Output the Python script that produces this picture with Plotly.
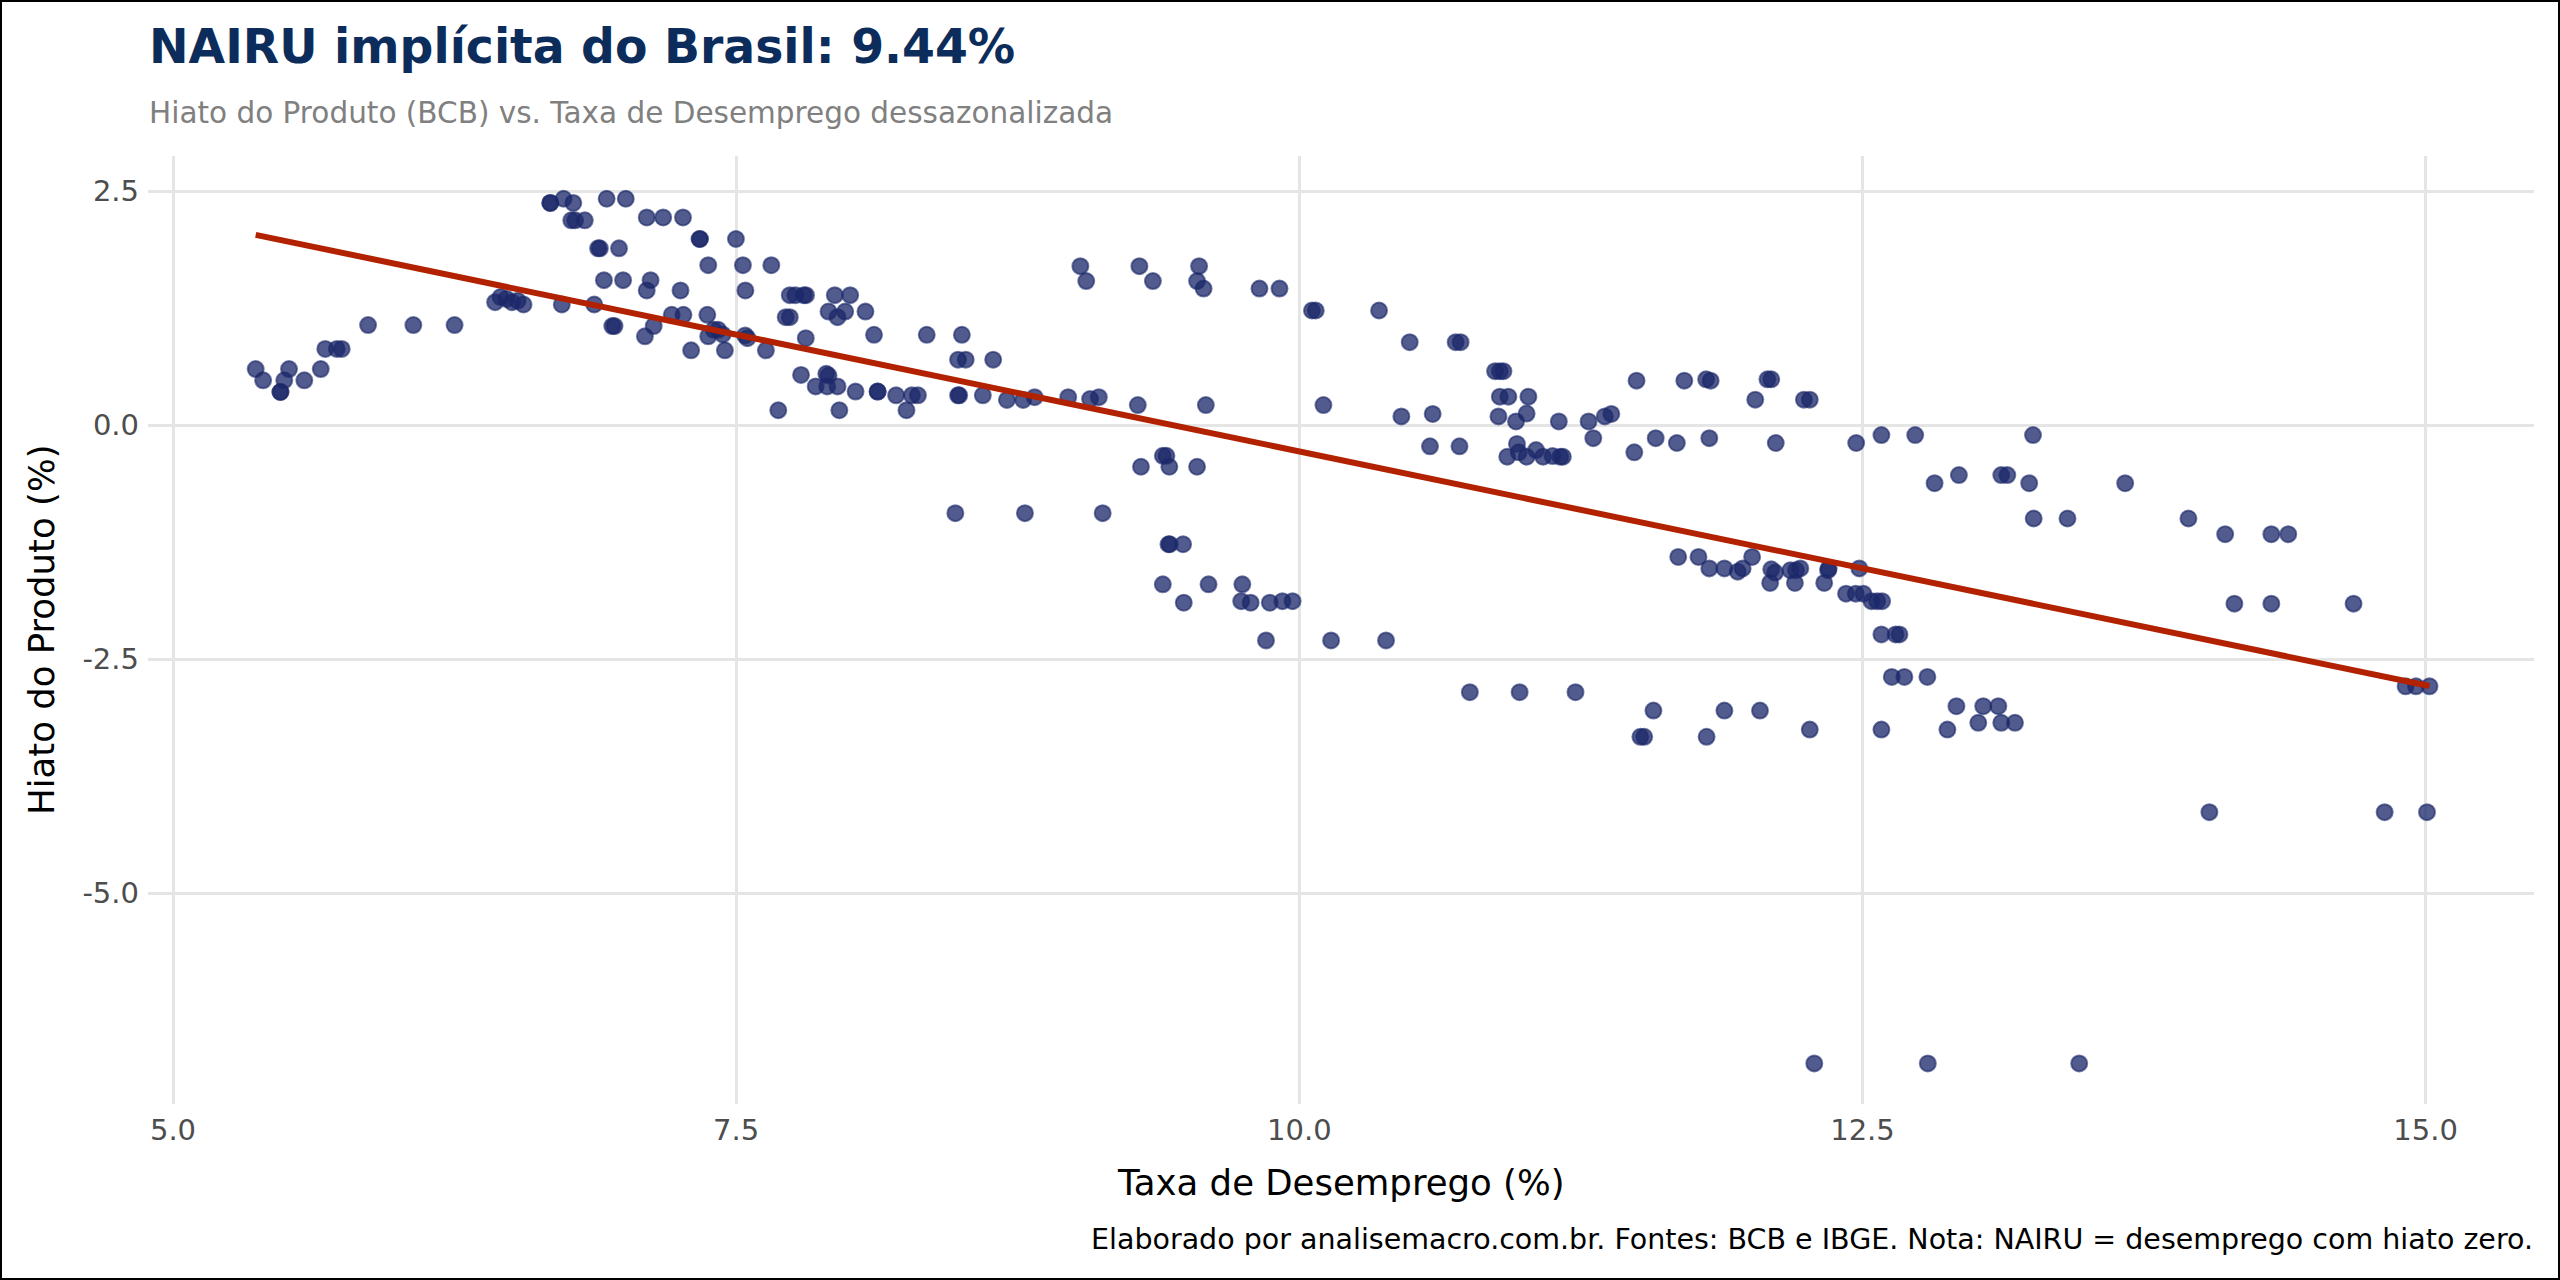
import numpy as np
import plotly.graph_objects as go

# Taxa de desemprego dessazonalizada (%)
desemprego = [
    5.367, 5.40, 5.477, 5.477, 5.494, 5.515, 5.583, 5.656, 5.676, 5.727, 5.749, 5.866, 6.067, 6.25,
    6.43, 6.454, 6.48, 6.505, 6.53, 6.556,
    6.675, 6.675, 6.734, 6.777, 6.768, 6.785, 6.828,
    6.726, 6.87, 6.887, 6.895, 6.98, 6.913, 6.998, 6.925, 7.01, 6.95, 6.96,
    7.103, 7.176, 7.264, 7.12, 7.103, 7.253, 7.095, 7.134, 7.214, 7.266,
    7.337, 7.34, 7.499, 7.376, 7.53, 7.541, 7.372,
    7.376, 7.40, 7.42, 7.44, 7.30, 7.45, 7.54, 7.55,
    7.656, 7.632, 7.738, 7.763, 7.80, 7.81, 7.72, 7.738, 7.809,
    7.788, 7.853, 7.90, 7.91, 7.904, 7.95, 7.687, 7.958,
    7.938, 8.006, 7.91, 7.95, 7.984, 8.074, 8.112,
    8.03, 8.128, 8.128, 8.21, 8.28, 8.307, 8.256,
    8.346, 8.502, 8.485, 8.519, 8.641, 8.485, 8.49, 8.595,
    8.702, 8.774, 8.825, 8.974, 9.071, 9.11, 9.283, 9.585, 10.107,
    9.028, 9.054, 9.29, 9.35, 9.555, 9.546, 9.575, 9.823, 9.912, 10.056, 10.073,
    9.297, 9.394, 9.41, 9.423, 9.546, 8.473, 8.782, 9.127,
    9.419, 9.425, 9.484, 9.394, 9.597, 9.747,
    9.487, 9.742, 9.784, 9.869, 9.925, 9.97, 9.852, 10.141,
    10.354, 10.49, 10.694, 10.716, 10.869, 10.89, 10.906, 10.89, 10.928, 11.017,
    10.453, 10.592, 10.884, 11.009, 10.962, 11.152, 11.284, 11.356, 11.385,
    11.497, 11.709, 11.806, 11.826, 12.078, 12.095, 12.024, 12.24, 12.266,
    10.58, 10.711, 11.305, 11.487, 11.582, 11.676, 11.82, 12.115, 12.472, 12.584, 12.734, 13.257,
    10.923, 10.966, 10.974, 11.009, 11.051, 11.082, 11.124, 11.158, 11.17,
    11.682, 11.772, 11.82, 11.887, 11.946, 11.968, 12.01, 12.095, 12.112, 12.09, 12.18, 12.205,
    12.224, 12.2, 12.33, 12.347, 12.35, 12.486,
    12.427, 12.47, 12.504, 12.54, 12.565, 12.587,
    12.584, 12.647, 12.664, 12.63, 12.686, 12.788, 12.584,
    10.385, 10.757, 10.978, 11.226, 11.572, 11.514, 11.531, 11.808, 11.887, 12.045, 12.266,
    12.286, 12.917, 13.036, 13.103, 12.877, 13.014, 13.116, 13.177,
    14.151, 14.315, 14.68, 14.911, 14.957, 15.017, 14.04, 14.818, 15.006,
    12.79, 13.462,
    12.82, 12.928, 13.116, 13.143, 13.24, 13.666, 13.26, 13.41, 13.947, 14.11, 14.315, 14.39,
]

# Hiato do produto (BCB, %)
hiato = [
    0.60, 0.48, 0.355, 0.355, 0.48, 0.60, 0.48, 0.60, 0.815, 0.815, 0.815, 1.07, 1.07, 1.07,
    1.315, 1.37, 1.35, 1.315, 1.33, 1.29,
    2.375, 2.375, 2.42, 2.375, 2.19, 2.19, 2.19,
    1.29, 1.29, 1.89, 1.89, 1.89, 1.55, 1.55, 2.42, 2.42, 1.06, 1.06,
    2.22, 2.22, 2.22, 1.55, 1.44, 1.44, 0.95, 1.06, 1.18, 1.18,
    1.99, 1.99, 1.99, 1.71, 1.71, 1.44, 1.18,
    0.95, 1.02, 1.02, 0.97, 0.80, 0.80, 0.96, 0.93,
    1.71, 0.80, 1.39, 1.39, 1.39, 1.39, 1.155, 1.155, 0.93,
    0.537, 0.415, 0.55, 0.53, 0.415, 0.415, 0.16, 0.16,
    1.39, 1.39, 1.215, 1.155, 1.215, 1.215, 0.966,
    0.36, 0.36, 0.36, 0.32, 0.32, 0.32, 0.16,
    0.966, 0.966, 0.70, 0.70, 0.70, 0.32, 0.32, 0.32,
    0.27, 0.27, 0.30, 0.30, 0.28, 0.30, 0.215, 0.215, 0.215,
    1.70, 1.54, 1.70, 1.54, 1.70, 1.54, 1.46, 1.46, 1.46, 1.226, 1.226,
    -0.444, -0.327, -0.327, -0.444, -0.444, -0.94, -0.94, -0.94,
    -1.272, -1.272, -1.272, -1.70, -1.70, -1.70,
    -1.897, -1.88, -1.897, -1.897, -1.88, -1.88, -2.30, -2.30,
    1.226, 0.887, 0.887, 0.887, 0.577, 0.577, 0.577, 0.305, 0.305, 0.305,
    0.094, 0.12, 0.094, 0.125, 0.04, 0.04, 0.04, 0.094, 0.12,
    0.476, 0.476, 0.49, 0.476, 0.49, 0.49, 0.273, 0.273, 0.273,
    -0.226, -0.226, -0.138, -0.29, -0.138, -0.19, -0.138, -0.19, -0.19, -0.105, -0.105, -0.105,
    -0.337, -0.2, -0.29, -0.337, -0.266, -0.337, -0.33, -0.337, -0.337,
    -1.408, -1.408, -1.53, -1.53, -1.565, -1.53, -1.408, -1.54, -1.575, -1.686, -1.55, -1.55,
    -1.53, -1.686, -1.686, -1.55, -1.53, -1.53,
    -1.80, -1.80, -1.80, -1.88, -1.88, -1.88,
    -2.236, -2.236, -2.236, -2.69, -2.69, -2.69, -3.253,
    -2.30, -2.853, -2.853, -2.853, -3.05, -3.33, -3.33, -3.33, -3.05, -3.05, -3.253,
    -6.82, -3.003, -3.003, -3.003, -3.253, -3.18, -3.18, -3.18,
    -1.907, -1.907, -1.907, -2.79, -2.79, -2.79, -4.135, -4.135, -4.135,
    -6.82, -6.82,
    -0.62, -0.533, -0.533, -0.533, -0.62, -0.62, -0.997, -0.997, -0.997, -1.165, -1.165, -1.165,
]

x_ticks = [5.0, 7.5, 10.0, 12.5, 15.0]
x_tick_labels = ["5.0", "7.5", "10.0", "12.5", "15.0"]
y_ticks = [-5.0, -2.5, 0.0, 2.5]
y_tick_labels = ["-5.0", "-2.5", "0.0", "2.5"]

titulo = "NAIRU implícita do Brasil: 9.44%"
subtitulo = "Hiato do Produto (BCB) vs. Taxa de Desemprego dessazonalizada"
legenda = "Elaborado por analisemacro.com.br. Fontes: BCB e IBGE. Nota: NAIRU = desemprego com hiato zero."

x = np.array(desemprego)
y = np.array(hiato)
coef = np.polyfit(x, y, 1)
x_fit = np.array([x.min(), x.max()])
y_fit = np.polyval(coef, x_fit)

W, H = 2560, 1280
ML, MR, MT, MB = 148, 26, 156, 176
PW, PH = W - ML - MR, H - MT - MB


def px(xpix):
    return (xpix - ML) / PW


def py(ypix):
    return (H - MB - ypix) / PH


FONT = "DejaVu Sans"

fig = go.Figure()
fig.add_trace(go.Scatter(
    x=desemprego, y=hiato, mode="markers",
    marker=dict(size=16, color="rgba(27,40,105,0.76)",
                line=dict(color="rgba(27,40,105,0.6)", width=2)),
    showlegend=False, hoverinfo="x+y",
))
fig.add_trace(go.Scatter(
    x=x_fit, y=y_fit, mode="lines",
    line=dict(color="#B22200", width=6),
    showlegend=False, hoverinfo="skip",
))

fig.add_shape(type="line", xref="paper", yref="y", x0=0, x1=1, y0=0, y1=0,
              line=dict(color="#808080", width=2.5, dash="8px,5px"), layer="below")

# figure border
fig.add_shape(type="rect", xref="paper", yref="paper",
              x0=px(1), x1=px(W - 1), y0=py(H - 1), y1=py(1),
              line=dict(color="#000000", width=2), fillcolor="rgba(0,0,0,0)")

annots = [
    dict(text="<b>" + titulo + "</b>", x=px(147), y=py(47), xanchor="left", yanchor="middle",
         font=dict(family=FONT, size=47.3, color="#0C2D5C")),
    dict(text=subtitulo, x=px(147), y=py(113), xanchor="left", yanchor="middle",
         font=dict(family=FONT, size=29.5, color="#808080")),
    dict(text=legenda, x=px(2535), y=py(1239), xanchor="right", yanchor="middle",
         font=dict(family=FONT, size=28.5, color="#000000")),
    dict(text="Taxa de Desemprego (%)", x=0.5, y=py(1182), xanchor="center", yanchor="middle",
         font=dict(family=FONT, size=35.5, color="#000000")),
    dict(text="Hiato do Produto (%)", x=px(41), y=0.5, xanchor="center", yanchor="middle",
         textangle=-90, font=dict(family=FONT, size=35.5, color="#000000")),
]
for a in annots:
    a.update(xref="paper", yref="paper", showarrow=False)

fig.update_layout(
    width=W, height=H,
    margin=dict(l=ML, r=MR, t=MT, b=MB),
    paper_bgcolor="white", plot_bgcolor="white",
    font=dict(family=FONT),
    annotations=annots,
    xaxis=dict(range=[4.889, 15.481], tickvals=x_ticks, ticktext=x_tick_labels,
               showgrid=True, gridcolor="#E5E5E5", gridwidth=2.5, zeroline=False,
               showline=False, ticks="", tickfont=dict(family=FONT, size=29, color="#4D4D4D"),
               ticklabelstandoff=6),
    yaxis=dict(range=[-7.254, 2.877], tickvals=y_ticks, ticktext=y_tick_labels,
               showgrid=True, gridcolor="#E5E5E5", gridwidth=2.5, zeroline=False,
               showline=False, ticks="", tickfont=dict(family=FONT, size=29, color="#4D4D4D"),
               ticklabelstandoff=8),
)

fig.write_html("out.html")
